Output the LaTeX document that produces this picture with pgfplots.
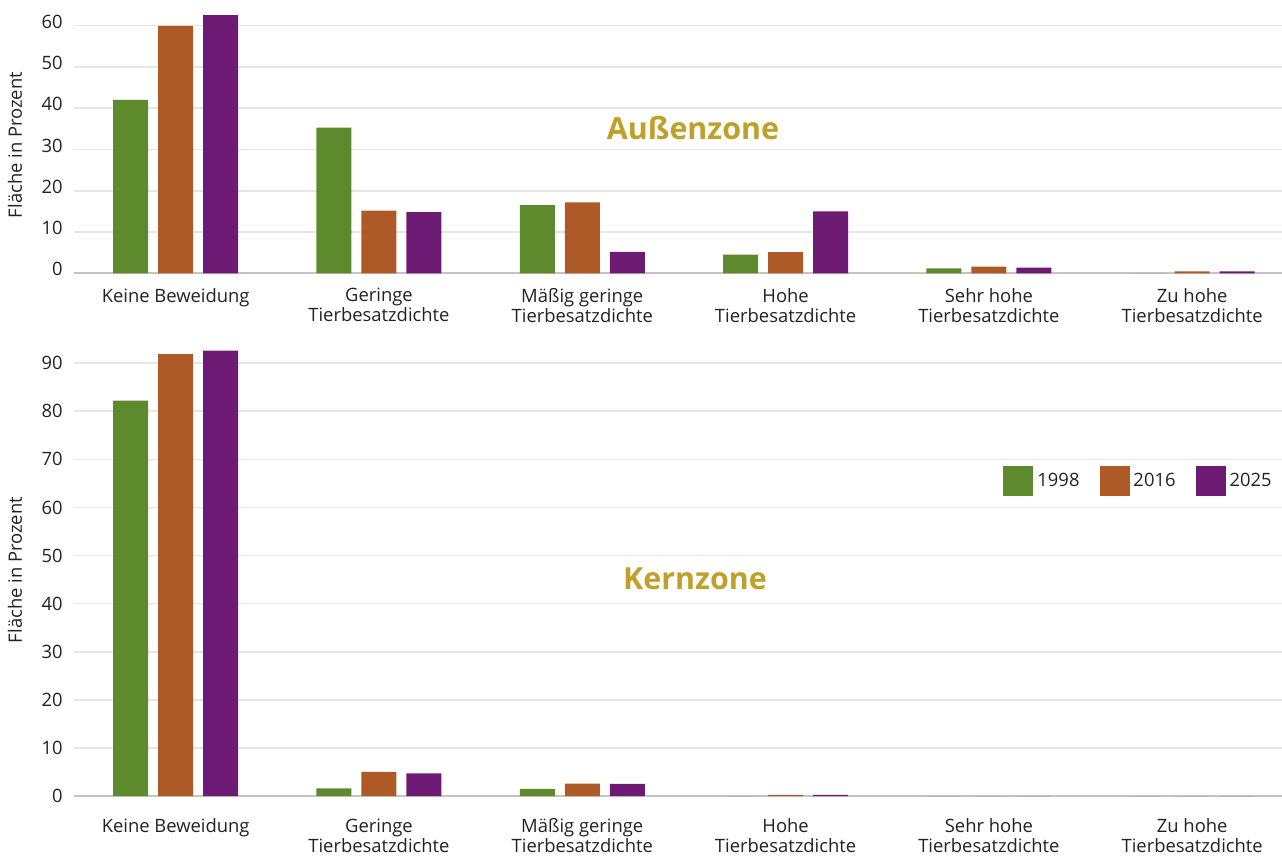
\documentclass[border=0pt]{standalone}
\usepackage{fontspec}
\setmainfont{Open Sans}
\usepackage{pgfplots}
\pgfplotsset{compat=1.18}
\definecolor{cgreen}{HTML}{5E8A2E}
\definecolor{corange}{HTML}{AE5A27}
\definecolor{cpurple}{HTML}{6C1A74}
\definecolor{cgold}{HTML}{BFA02A}
\definecolor{ctext}{HTML}{222222}
\definecolor{cgrid}{HTML}{E6E6E6}
\definecolor{caxis}{HTML}{C4C4C4}
\newcommand\tickfont{\fontsize{9.2bp}{10bp}\selectfont}
\pgfplotsset{
  sqlegend/.style={legend image code/.code={\fill[##1] (0bp,-7.5bp) rectangle (15bp,7.5bp);}},
  zonebase/.style={
    scale only axis, width=604bp,
    xmin=-0.5, xmax=5.442, ymin=0,
    ybar=5bp, bar width=17.5bp,
    axis x line*=bottom, axis y line*=left,
    y axis line style={draw=none},
    x axis line style={caxis, line width=0.8bp},
    tick style={draw=none},
    ymajorgrids, grid style={cgrid, line width=0.8bp},
    xtick={0,1,2,3,4,5},
    xticklabels={Keine Beweidung,{Geringe\\Tierbesatzdichte},{Mäßig geringe\\Tierbesatzdichte},{Hohe\\Tierbesatzdichte},{Sehr hohe\\Tierbesatzdichte},{Zu hohe\\Tierbesatzdichte}},
    xticklabel style={align=center, font=\tickfont, text=ctext, inner sep=0pt, anchor=north},
    yticklabel style={font=\tickfont, text=ctext, inner sep=0pt, anchor=east, xshift=-5.5bp},
    /pgf/number format/assume math mode=true,
    clip=false,
  },
}
\begin{document}
\begin{tikzpicture}[x=0.5bp,y=0.5bp]
\path[use as bounding box] (0,0) rectangle (1282,855);
% Top: Aussenzone
\begin{axis}[zonebase, at={(37bp,290.85bp)}, anchor=south west,
  height=136.65bp, ymax=66.2, ytick={0,10,...,60},
  xticklabel style={yshift=-3bp},
  yticklabel style={yshift=2bp}]
\addplot[fill=cgreen, draw=none] coordinates {(0,42.0) (1,35.3) (2,16.5) (3,4.5) (4,1.2) (5,0)};
\addplot[fill=corange, draw=none] coordinates {(0,59.9) (1,15.2) (2,17.2) (3,5.1) (4,1.6) (5,0.45)};
\addplot[fill=cpurple, draw=none] coordinates {(0,62.5) (1,14.8) (2,5.2) (3,15.0) (4,1.4) (5,0.45)};
\end{axis}
% Bottom: Kernzone
\begin{axis}[zonebase, at={(37bp,29.5bp)}, anchor=south west,
  height=226.5bp, ymax=94.2, ytick={0,10,...,90},
  xticklabel style={yshift=-7bp},
  legend columns=3,
  legend style={draw=none, fill=none, at={(0.995,0.695)}, anchor=east,
    font=\tickfont, text=ctext, inner sep=0pt,
    /tikz/every even column/.append style={column sep=8bp}},
  legend cell align=left]
\addplot[fill=cgreen, draw=none, sqlegend] coordinates {(0,82.2) (1,1.6) (2,1.5) (3,0) (4,0) (5,0)};
\addplot[fill=corange, draw=none, sqlegend] coordinates {(0,91.9) (1,5.0) (2,2.6) (3,0.25) (4,0) (5,0)};
\addplot[fill=cpurple, draw=none, sqlegend] coordinates {(0,92.6) (1,4.7) (2,2.5) (3,0.25) (4,0) (5,0)};
\legend{1998,2016,2025}
\end{axis}
\node[rotate=90, font=\tickfont, text=ctext] at (15,710) {Fläche in Prozent};
\node[rotate=90, font=\tickfont, text=ctext] at (15,285) {Fläche in Prozent};
\node[font=\fontsize{15.2bp}{17bp}\selectfont\bfseries, text=cgold] at (693,727) {Außenzone};
\node[font=\fontsize{15.2bp}{17bp}\selectfont\bfseries, text=cgold] at (695,276) {Kernzone};
\end{tikzpicture}
\end{document}
